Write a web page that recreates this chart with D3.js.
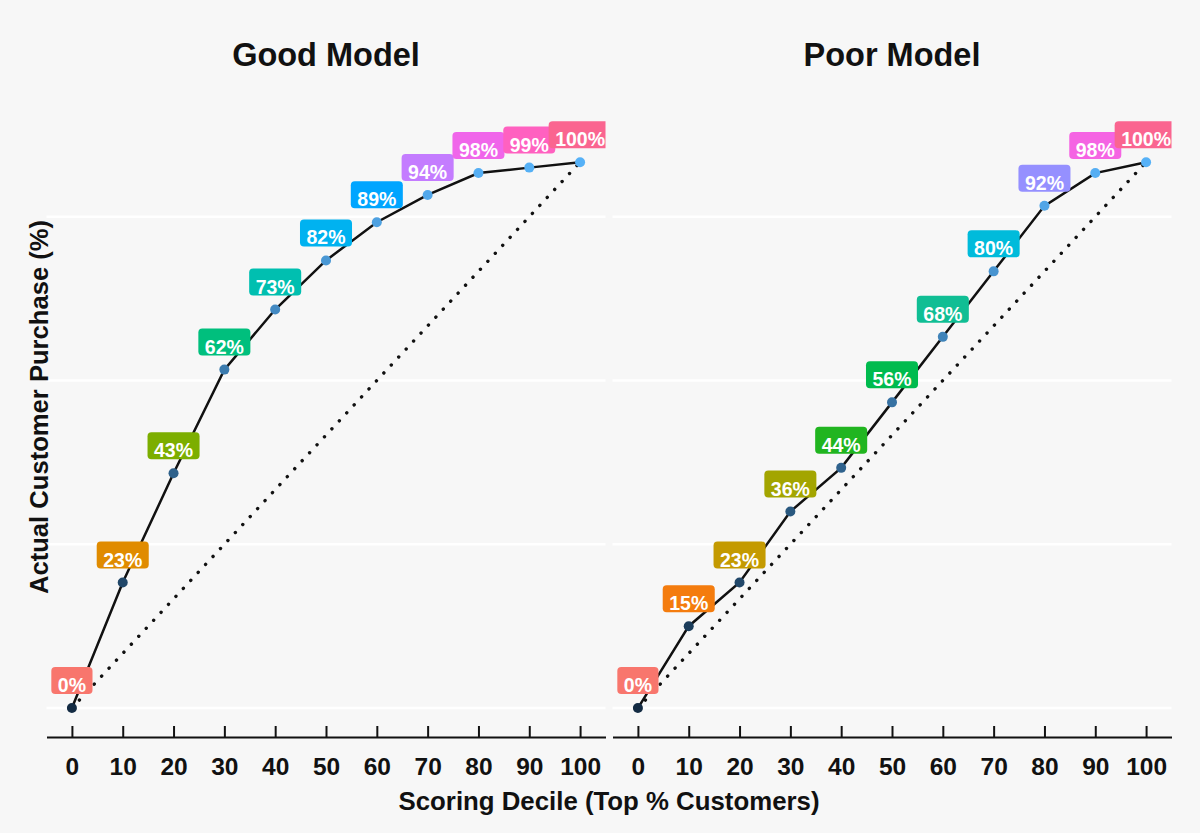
<!DOCTYPE html>
<html>
<head>
<meta charset="utf-8">
<title>Gain chart</title>
<script src="https://cdn.jsdelivr.net/npm/d3@7"></script>
<style>
  body {
    margin: 0;
    background: #f7f7f7;
    font-family: "Liberation Sans", Arial, Helvetica, sans-serif;
  }
  .grid line {
    stroke: #ffffff;
    stroke-width: 2.5;
  }
  .axis path,
  .axis line {
    stroke: #111;
    stroke-width: 2;
  }
  .axis text {
    font-size: 24.5px;
    font-weight: bold;
    fill: #111;
  }
</style>
</head>
<body>
<div id="chart"></div>
<script>
  // data
  var deciles = [0, 10, 20, 30, 40, 50, 60, 70, 80, 90, 100];
  var goodModel = [0, 23, 43, 62, 73, 82, 89, 94, 98, 99, 100];
  var poorModel = [0, 15, 23, 36, 44, 56, 68, 80, 92, 98, 100];
  var panelTitles = ["Good Model", "Poor Model"];
  var gridBreaks = [0, 30, 60, 90];

  // label box colours, one per point
  var goodColors = ["#F8766D", "#E08B00", "#7CAE00", "#00BF7D", "#00BFB0", "#00B2F0",
                    "#00A5FF", "#C47CFF", "#F066EA", "#FF61C0", "#FA6590"];
  var poorColors = ["#F8766D", "#F47C0E", "#C49A00", "#A3A500", "#21B520", "#00BB4E",
                    "#10BE94", "#00BBDB", "#9590FF", "#F564E3", "#FA6590"];

  var width = 1200;
  var height = 833;
  var panelW = 559;
  var panelLeft = [46.5, 612.5];

  var pointColor = d3.scaleLinear()
    .domain([0, 100])
    .range(["#132B43", "#56B1F7"])
    .interpolate(d3.interpolateLab);

  var x = d3.scaleLinear().domain([-5, 105]).range([0, panelW]);
  var y = d3.scaleLinear().domain([-5.3, 115.6]).range([737, 77]);

  var svg = d3.select("#chart")
    .append("svg")
    .attr("width", width)
    .attr("height", height);

  svg.append("rect")
    .attr("width", width)
    .attr("height", height)
    .attr("fill", "#f7f7f7");

  var line = d3.line()
    .x(function(d) { return x(d.x); })
    .y(function(d) { return y(d.y); });

  [goodModel, poorModel].forEach(function(series, p) {
    var colors = p == 0 ? goodColors : poorColors;
    var pts = deciles.map(function(d, i) { return {x: d, y: series[i], c: colors[i]}; });

    var g = svg.append("g")
      .attr("transform", "translate(" + panelLeft[p] + ",0)");

    g.append("clipPath")
      .attr("id", "clip" + p)
      .append("rect")
      .attr("x", 0)
      .attr("y", y.range()[1])
      .attr("width", panelW)
      .attr("height", y.range()[0] - y.range()[1]);

    // grid
    g.append("g")
      .attr("class", "grid")
      .selectAll("line")
      .data(gridBreaks)
      .enter()
      .append("line")
      .attr("x1", 0)
      .attr("x2", panelW)
      .attr("y1", function(d) { return y(d); })
      .attr("y2", function(d) { return y(d); });

    var plot = g.append("g").attr("clip-path", "url(#clip" + p + ")");

    // diagonal reference
    plot.append("path")
      .datum([{x: 0, y: 0}, {x: 100, y: 100}])
      .attr("d", line)
      .attr("fill", "none")
      .attr("stroke", "#111")
      .attr("stroke-width", 3.4)
      .attr("stroke-linecap", "round")
      .attr("stroke-dasharray", "0.1 10.8");

    plot.append("path")
      .datum(pts)
      .attr("d", line)
      .attr("fill", "none")
      .attr("stroke", "#111")
      .attr("stroke-width", 2.5);

    plot.selectAll("circle")
      .data(pts)
      .enter()
      .append("circle")
      .attr("cx", function(d) { return x(d.x); })
      .attr("cy", function(d) { return y(d.y); })
      .attr("r", 5)
      .attr("fill", function(d) { return pointColor(d.y); });

    // value labels
    pts.forEach(function(d) {
      var lab = plot.append("g");
      var txt = lab.append("text")
        .attr("x", x(d.x))
        .attr("y", y(d.y) - 16)
        .attr("text-anchor", "middle")
        .attr("font-size", "19.5px")
        .attr("font-weight", "bold")
        .attr("fill", "#ffffff")
        .text(d.y + "%");
      var w = txt.node().getComputedTextLength() + 13;
      lab.insert("rect", "text")
        .attr("x", x(d.x) - w / 2)
        .attr("y", y(d.y) - 41)
        .attr("width", w)
        .attr("height", 27)
        .attr("rx", 4)
        .attr("fill", d.c);
    });

    // x axis
    g.append("g")
      .attr("class", "axis")
      .attr("transform", "translate(0,737)")
      .call(d3.axisBottom(x).tickValues(deciles).tickSizeInner(-11).tickSizeOuter(0).tickPadding(21));

    svg.append("text")
      .attr("x", panelLeft[p] + panelW / 2)
      .attr("y", 66)
      .attr("text-anchor", "middle")
      .attr("font-size", "32.5px")
      .attr("font-weight", "bold")
      .attr("fill", "#111")
      .text(panelTitles[p]);
  });

  svg.append("text")
    .attr("x", (panelLeft[0] + panelLeft[1] + panelW) / 2)
    .attr("y", 810)
    .attr("text-anchor", "middle")
    .attr("font-size", "25.8px")
    .attr("font-weight", "bold")
    .attr("fill", "#111")
    .text("Scoring Decile (Top % Customers)");

  svg.append("text")
    .attr("transform", "translate(48,407) rotate(-90)")
    .attr("text-anchor", "middle")
    .attr("font-size", "25.6px")
    .attr("font-weight", "bold")
    .attr("fill", "#111")
    .text("Actual Customer Purchase (%)");
</script>
</body>
</html>
